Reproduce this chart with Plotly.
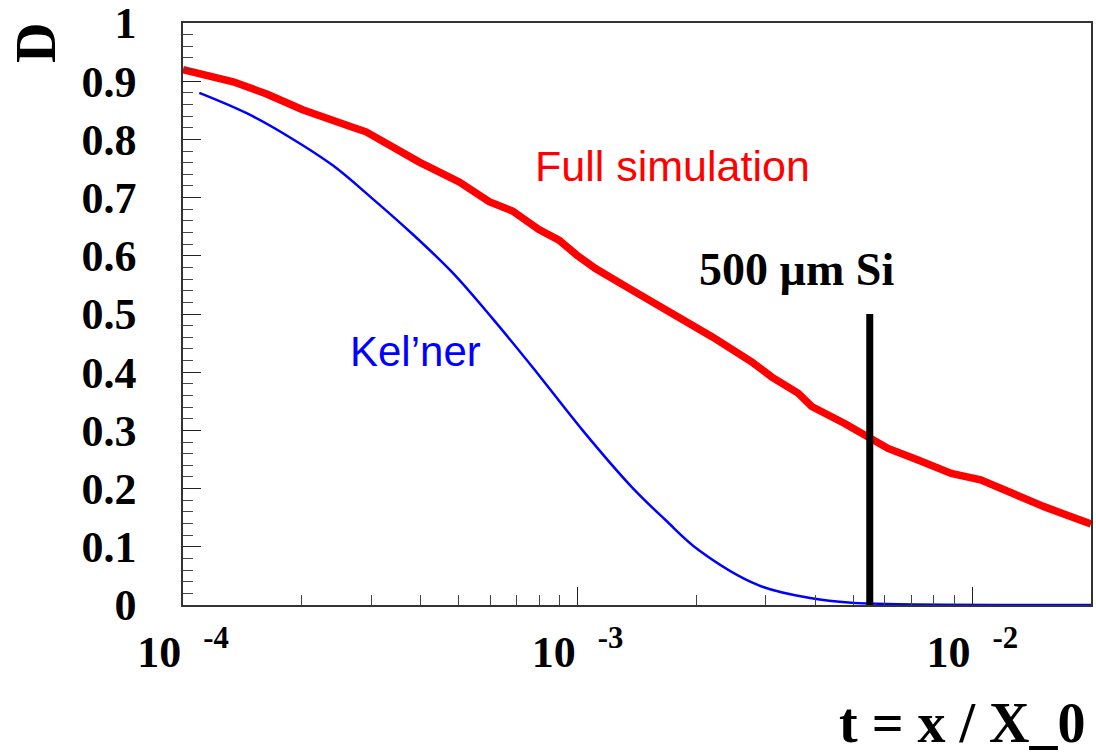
import numpy as np
import plotly.graph_objects as go

# ---- data ----
full_t = [1.0e-4, 1.12e-4, 1.34e-4, 1.63e-4, 2.01e-4, 2.69e-4, 2.91e-4, 3.97e-4, 5.01e-4,
          5.97e-4, 6.84e-4, 7.98e-4, 8.97e-4, 9.96e-4, 1.11e-3, 1.35e-3, 1.80e-3, 2.19e-3,
          2.76e-3, 3.10e-3, 3.62e-3, 3.92e-3, 4.75e-3, 5.45e-3, 6.12e-3, 7.29e-3, 8.85e-3,
          1.05e-2, 1.25e-2, 1.52e-2, 2.0e-2]
full_D = [0.920, 0.911, 0.899, 0.878, 0.851, 0.821, 0.813, 0.761, 0.727,
          0.693, 0.677, 0.645, 0.627, 0.601, 0.578, 0.544, 0.495, 0.461,
          0.418, 0.392, 0.364, 0.341, 0.312, 0.289, 0.269, 0.249, 0.226,
          0.215, 0.192, 0.169, 0.139]

kel_t = [1.10e-4, 1.45e-4, 1.85e-4, 2.40e-4, 3.00e-4, 3.82e-4, 4.82e-4, 6.09e-4,
         7.68e-4, 1.03e-3, 1.37e-3, 1.67e-3, 2.03e-3, 2.87e-3, 3.92e-3, 4.94e-3,
         6.49e-3, 8.5e-3, 1.3e-2, 2.0e-2]
kel_D = [0.880, 0.845, 0.805, 0.755, 0.700, 0.637, 0.571, 0.492,
         0.409, 0.300, 0.203, 0.146, 0.094, 0.034, 0.0115, 0.004,
         0.0015, 0.0004, 0.0, 0.0]

si_t = [0.0055, 0.0055]
si_D = [0.0, 0.5]

x_tickvals = [1e-4, 1e-3, 1e-2]
x_ticktext = ["10\u00a0\u00a0<sup>-4</sup>", "10\u00a0\u00a0<sup>-3</sup>", "10\u00a0\u00a0<sup>-2</sup>"]
y_tickvals = [0, 0.1, 0.2, 0.3, 0.4, 0.5, 0.6, 0.7, 0.8, 0.9, 1.0]
y_ticktext = ["0", "0.1", "0.2", "0.3", "0.4", "0.5", "0.6", "0.7", "0.8", "0.9", "1"]

x_minor = [k * 10.0 ** d for d in (-4, -3, -2) for k in range(2, 10) if k * 10.0 ** d < 0.0199]

fig = go.Figure()
fig.add_trace(go.Scatter(x=kel_t, y=kel_D, mode="lines",
                         line=dict(color="#0000ff", width=2.5, shape="spline", smoothing=1.0),
                         showlegend=False))
fig.add_trace(go.Scatter(x=full_t, y=full_D, mode="lines",
                         line=dict(color="#ff0000", width=7.5),
                         showlegend=False))
fig.add_trace(go.Scatter(x=si_t, y=si_D, mode="lines",
                         line=dict(color="#000000", width=7),
                         showlegend=False))

tickfont = dict(family="Liberation Serif", size=44, color="black", weight="bold")

fig.update_xaxes(type="log", range=[-4, np.log10(0.02)],
                 tickmode="array", tickvals=x_tickvals, ticktext=x_ticktext,
                 ticks="inside", ticklen=18, tickwidth=1.2, tickcolor="#222",
                 minor=dict(tickvals=x_minor, ticks="inside", ticklen=10, tickwidth=1.2, tickcolor="#444"),
                 showline=True, linecolor="#333", linewidth=1.5, mirror=True,
                 showgrid=False, zeroline=False, tickfont=tickfont,
                 ticklabelstandoff=7, ticklabeloverflow="allow")
fig.update_yaxes(range=[0, 1],
                 tickmode="array", tickvals=y_tickvals, ticktext=y_ticktext,
                 ticks="inside", ticklen=18, tickwidth=1.2, tickcolor="#222",
                 minor=dict(dtick=0.02, tick0=0, ticks="inside", ticklen=10, tickwidth=1.2, tickcolor="#444"),
                 showline=True, linecolor="#333", linewidth=1.5, mirror=True,
                 showgrid=False, zeroline=False, tickfont=tickfont,
                 ticklabelstandoff=36, ticklabeloverflow="allow")

L, R, T, B = 183, 5, 23, 150
W, H = 1096, 755
pw, ph = W - L - R, H - T - B

def px(xp):
    return (xp - L) / pw

def py(yp):
    return (H - B - yp) / ph

sans = "Liberation Sans"
fig.add_annotation(x=px(533), y=py(166), xref="paper", yref="paper", text="Full simulation",
                   showarrow=False, xanchor="left", yanchor="middle",
                   font=dict(family=sans, size=43, color="#ff0000"))
fig.add_annotation(x=px(348), y=py(351), xref="paper", yref="paper", text="Kel\u2019ner",
                   showarrow=False, xanchor="left", yanchor="middle",
                   font=dict(family=sans, size=42, color="#0000ff"))
fig.add_annotation(x=px(697), y=py(269), xref="paper", yref="paper", text="500 \u00b5m Si",
                   showarrow=False, xanchor="left", yanchor="middle",
                   font=dict(family="Liberation Serif", size=46, color="black", weight="bold"))
fig.add_annotation(x=px(36), y=py(43), xref="paper", yref="paper", text="D",
                   showarrow=False, xanchor="center", yanchor="middle", textangle=-90,
                   font=dict(family="Liberation Serif", size=56, color="black", weight="bold"))
fig.add_annotation(x=px(1088), y=py(723), xref="paper", yref="paper", text="t = x / X_0",
                   showarrow=False, xanchor="right", yanchor="middle",
                   font=dict(family="Liberation Serif", size=56, color="black", weight="bold"))

fig.update_layout(width=W, height=H, margin=dict(l=L, r=R, t=T, b=B, autoexpand=False),
                  paper_bgcolor="white", plot_bgcolor="white", showlegend=False)

fig.write_html("out.html")
